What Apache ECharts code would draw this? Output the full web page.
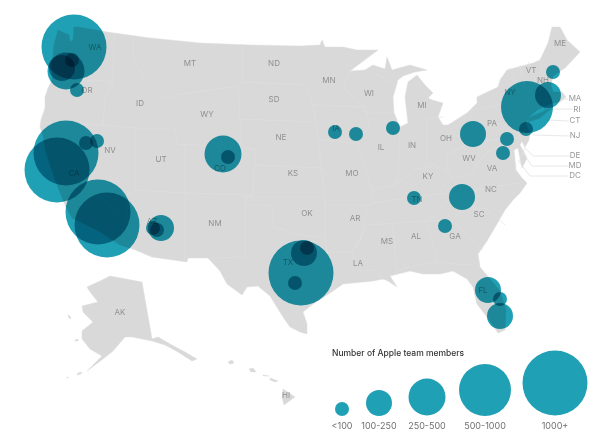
<!DOCTYPE html>
<html>
<head>
<meta charset="utf-8">
<title>Apple team members by state</title>
<script src="https://cdn.jsdelivr.net/npm/echarts@6/dist/echarts.min.js"></script>
<style>
  html, body { margin: 0; background: #fff; }
  #chart { width: 599px; height: 448px; }
</style>
</head>
<body>
<div id="chart"></div>
<script>
// map geometry (x, y in picture units, y goes down)
var lower48 = [[78,27],[107,32],[150,38],[200,43],[250,45],[300,46],[320,45],[322,40],[325,47],[343,47],[357,50],[378,50],[350,71],[365,70],[373,65],[385,69],[387,57],[392,70],[410,65],[427,70],[415,72],[403,76],[398,80],[393,97],[394,113],[400,127],[408,123],[405,97],[408,82],[417,75],[425,85],[433,93],[428,98],[432,100],[443,103],[438,117],[443,125],[448,125],[467,113],[477,103],[477,97],[498,87],[500,80],[507,70],[533,63],[540,60],[548,43],[552,27],[560,27],[567,40],[580,52],[565,68],[553,76],[551,85],[553,92],[562,92],[566,97],[560,102],[553,103],[537,110],[528,118],[526,125],[530,132],[529,140],[525,147],[522,141],[520,145],[527,158],[522,168],[518,148],[514,150],[516,170],[522,178],[527,183],[520,193],[513,200],[505,210],[497,224],[487,241],[478,254],[480,267],[500,291],[506,310],[505,330],[498,333],[490,321],[477,304],[473,287],[467,279],[453,271],[440,274],[423,274],[410,271],[390,276],[397,287],[388,281],[383,279],[373,281],[343,284],[333,291],[313,304],[303,312],[307,324],[307,334],[300,332],[290,327],[283,317],[270,296],[258,286],[247,287],[242,295],[227,284],[220,271],[208,258],[188,258],[187,262],[152,257],[133,249],[120,245],[112,240],[100,232],[88,226],[72,218],[65,205],[61,195],[55,180],[50,165],[45,150],[43,135],[40,127],[41,120],[45,108],[45,97],[48,88],[52,80],[52,65],[54,45],[58,30],[69,35],[70,42],[73,40],[74,27]];
var longIsland = [[553,107],[540,118],[528,122],[528,118],[540,113]];
var alaska = [[110,276],[142,282],[152,339],[158,337],[170,344],[185,352],[197,359],[192,361],[178,352],[165,345],[152,341],[132,337],[125,337],[113,351],[103,359],[87,371],[102,356],[90,349],[82,339],[82,331],[93,322],[83,312],[82,306],[98,302],[90,292],[87,287],[100,281]];
var alaskaIslands = [[[75,340],[78,339],[78,341],[75,341]],[[68,315],[70,316],[71,319],[69,318]],[[78,373],[82,372],[81,374],[77,375]],[[66,378],[69,377],[68,378]]];
var hawaii = [[[283,389],[295,397],[284,405],[282,397]],[[270,378],[278,381],[275,382],[270,380]],[[263,375],[269,376],[268,377],[263,376]],[[249,369],[253,368],[256,372],[251,372]],[[228,362],[232,360],[234,363],[230,364]]];

// faint state borders
var stateBorders = [
  [[52,80],[75,82],[95,80],[113,82]],
  [[114,33],[113,82],[105,97],[103,125]],
  [[40,122],[72,124],[103,125],[135,128],[175,128]],
  [[133,35],[133,60],[150,85],[165,97],[175,97]],
  [[175,95],[238,86],[240,119],[240,148],[178,144],[175,128]],
  [[72,124],[72,170],[127,222],[133,249]],
  [[135,128],[135,190],[127,195],[127,222]],
  [[135,190],[185,193],[253,195]],
  [[178,144],[185,145],[185,193],[185,258]],
  [[240,148],[255,149],[253,195],[245,197],[322,197]],
  [[245,197],[245,257],[208,258]],
  [[245,205],[272,205],[272,226],[300,235],[325,238],[327,252],[327,268],[333,288]],
  [[238,86],[242,82],[307,85],[313,105],[318,140],[322,172],[325,205],[325,238]],
  [[242,44],[242,82]],
  [[240,119],[312,122]],
  [[255,165],[320,168],[322,172]],
  [[325,205],[368,205],[360,240],[352,252],[327,252]],
  [[352,252],[357,270],[378,270],[383,280]],
  [[313,105],[365,107],[345,90],[345,80],[350,71]],
  [[318,140],[358,143]],
  [[365,107],[370,125],[358,140],[358,150],[368,175],[372,190],[373,203],[368,205]],
  [[365,112],[393,112]],
  [[375,73],[395,85]],
  [[400,127],[398,175],[395,185]],
  [[372,190],[395,185],[415,170],[433,165],[447,170],[452,178],[440,190],[438,194]],
  [[427,118],[427,165]],
  [[427,118],[443,117]],
  [[470,110],[470,142],[447,155],[447,170]],
  [[470,110],[512,103],[520,115],[517,128],[520,138],[470,142]],
  [[373,203],[438,194],[455,193],[520,183]],
  [[368,225],[425,221],[452,220],[463,208],[485,208],[505,225]],
  [[455,193],[435,215],[425,221]],
  [[368,225],[352,252]],
  [[393,224],[397,272],[405,268],[437,262],[470,265],[480,262]],
  [[425,221],[437,258],[437,262]],
  [[452,220],[483,250]],
  [[452,178],[470,175],[480,160],[490,150],[497,147],[510,152],[516,165]],
  [[510,68],[522,100],[527,100],[550,100]],
  [[520,65],[527,100]],
  [[528,62],[540,90],[527,98]],
  [[540,58],[545,85]],
  [[525,103],[528,118]],
  [[544,101],[545,111]],
  [[520,138],[525,147],[520,160]]
];

// state labels and where they sit
var stateNames = ['WA','OR','ID','MT','WY','ND','SD','NE','NV','UT','CO','CA','AZ','NM','KS','OK','TX','MN','IA','MO','AR','LA','WI','IL','MS','MI','IN','KY','TN','AL','OH','WV','GA','FL','PA','VA','NC','SC','NY','VT','NH','ME','AK','HI','MA','RI','CT','NJ','DE','MD','DC'];
var stateLabelX = [95,87,140,190,207,274,274,281,110,161,220,74,152,215,293,307,288,329,336,352,355,358,369,381,387,422,412,428,417,416,446,469,455,483,492,492,491,479,510,531,543,560,120,286,575,577,575,575,575,575,575];
var stateLabelY = [48,91,104,64,115,64,100,138,151,160,169,174,222,224,174,214,263,81,129,174,219,264,94,148,242,106,146,177,200,237,139,159,237,291,124,169,190,215,93,71,81,44,313,396,99,110,121,136,156,166,176];

// callout lines for the small north-east states
var calloutLines = [
  [[562,99],[568,99]],
  [[545,109],[573,109]],
  [[547,120],[569,121]],
  [[533,135],[570,136]],
  [[525,148],[533,156],[570,156]],
  [[522,152],[532,166],[568,166]],
  [[518,160],[530,176],[568,176]]
];

// team size bins and the bubble diameter of each one
var binLabels = ['<100','100-250','250-500','500-1000','1000+'];
var binDiameter = [14,26,37,52,65];

// Apple sites: location and size bin
var siteX = [74,66,62,72,77,66,57,86,97,223,228,98,107,161,157,153,301,304,307,295,488,500,500,445,462,414,473,335,356,393,507,503,527,526,548,553];
var siteY = [47,71,68,60,90,153,170,143,141,154,157,212,225,228,230,228,273,253,248,283,290,299,316,226,197,198,134,132,134,128,139,153,107,129,95,72];
var siteBin = [4,2,1,0,0,4,4,0,0,2,0,4,4,1,0,0,4,1,0,0,1,0,1,0,1,0,1,0,0,0,0,0,3,0,1,0];

// legend bubbles
var legendX = [342,379,427,485,555];
var legendY = [409,403,397,390,383];
var legendTextY = 426;

var chart = echarts.init(document.getElementById('chart'));

function feature(name, rings) {
  return {
    type: 'Feature',
    properties: { name: name },
    geometry: { type: 'MultiPolygon', coordinates: rings.map(function (r) { return [r.concat([r[0]])]; }) }
  };
}
echarts.registerMap('usa', {
  type: 'FeatureCollection',
  features: [
    feature('Lower 48', [lower48, longIsland]),
    feature('Alaska', [alaska].concat(alaskaIslands)),
    feature('Hawaii', hawaii)
  ]
});

var siteData = siteX.map(function (x, i) { return { value: [x, siteY[i]], bin: siteBin[i] }; });
var legendData = legendX.map(function (x, i) { return { value: [x, legendY[i]], bin: i }; });
var stateData = stateNames.map(function (n, i) { return { name: n, value: [stateLabelX[i], stateLabelY[i]] }; });
var legendTextData = binLabels.map(function (n, i) { return { name: n, value: [legendX[i], legendTextY] }; });

function binSize(val, params) { return binDiameter[params.data.bin]; }

var option = {
  animation: false,
  backgroundColor: '#fff',
  textStyle: { fontFamily: 'Inter' },
  title: {
    text: 'Number of Apple team members',
    left: 327, top: 344,
    textStyle: { fontSize: 8.5, fontWeight: 500, color: '#333', fontFamily: 'Inter' }
  },
  geo: {
    map: 'usa',
    projection: { project: function (c) { return c; }, unproject: function (c) { return c; } },
    boundingCoords: [[0, 0], [599, 448]],
    left: 0, top: 0, right: 0, bottom: 0,
    roam: false,
    silent: true,
    label: { show: false },
    itemStyle: { areaColor: '#d9d9d9', borderColor: '#dcdcdc', borderWidth: 0.5 }
  },
  series: [
    {
      name: 'State borders', type: 'lines', coordinateSystem: 'geo', polyline: true, silent: true, z: 1,
      lineStyle: { color: '#dfdfdf', width: 0.6, opacity: 1 },
      data: stateBorders.map(function (c) { return { coords: c }; })
    },
    {
      name: 'Callouts', type: 'lines', coordinateSystem: 'geo', polyline: true, silent: true, z: 1,
      lineStyle: { color: '#e2e2e2', width: 0.8, opacity: 1 },
      data: calloutLines.map(function (c) { return { coords: c }; })
    },
    {
      name: 'State labels', type: 'scatter', coordinateSystem: 'geo', silent: true, z: 1, symbolSize: 0,
      label: { show: true, position: 'inside', formatter: '{b}', fontSize: 8, color: '#7d7d7d', fontFamily: 'Inter' },
      data: stateData
    },
    {
      name: 'Team members', type: 'scatter', coordinateSystem: 'geo', silent: true, z: 3,
      blendMode: 'multiply',
      symbolSize: binSize,
      itemStyle: { color: '#20a0b4', opacity: 1 },
      data: siteData
    },
    {
      name: 'Legend', type: 'scatter', coordinateSystem: 'geo', silent: true, z: 3,
      symbolSize: binSize,
      itemStyle: { color: '#20a0b4', opacity: 1 },
      data: legendData
    },
    {
      name: 'Legend labels', type: 'scatter', coordinateSystem: 'geo', silent: true, z: 3, symbolSize: 0,
      label: { show: true, position: 'inside', formatter: '{b}', fontSize: 9, color: '#4a4a4a', fontFamily: 'Inter' },
      data: legendTextData
    }
  ]
};
chart.setOption(option);
</script>
</body>
</html>
